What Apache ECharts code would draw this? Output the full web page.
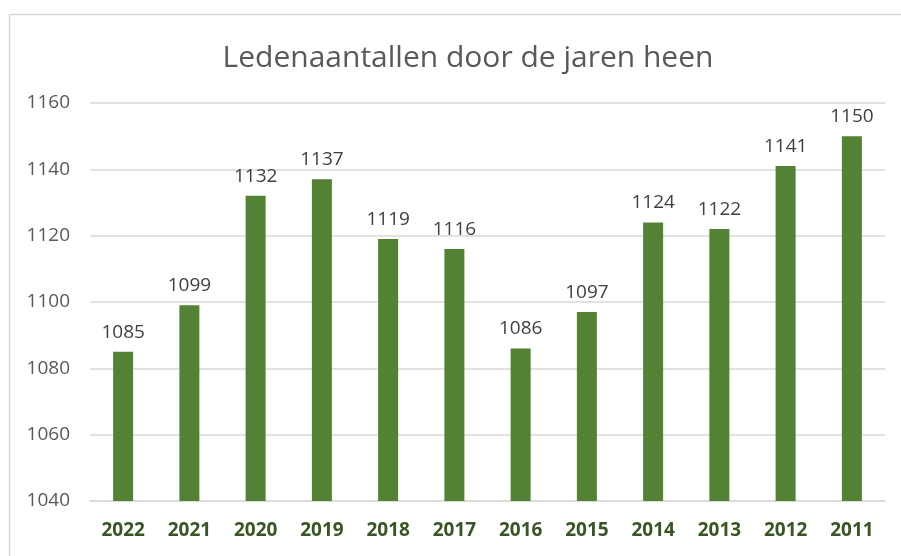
<!DOCTYPE html>
<html><head><meta charset="utf-8">
<script src="https://cdn.jsdelivr.net/npm/echarts@6/dist/echarts.min.js"></script>
<style>html,body{margin:0;padding:0;background:#fff}#c{width:901px;height:556px}</style>
</head><body><div id="c"></div>
<script>
const title = 'Ledenaantallen door de jaren heen';
const years = ['2022','2021','2020','2019','2018','2017','2016','2015','2014','2013','2012','2011'];
const members = [1085,1099,1132,1137,1119,1116,1086,1097,1124,1122,1141,1150];
const yTicks = [1040,1060,1080,1100,1120,1140,1160];

const chart = echarts.init(document.getElementById('c'), null, {renderer:'canvas'});
chart.setOption({
  animation:false,
  backgroundColor:'#fff',
  title:{text:title,left:463,textAlign:'center',top:38,
    textStyle:{fontFamily:'Open Sans',fontSize:30,fontWeight:'normal',color:'#595959'}},
  graphic:[{type:'rect',shape:{x:9.5,y:14.5,width:900,height:560},
    style:{fill:'none',stroke:'#d9d9d9',lineWidth:1.5},silent:true}],
  grid:{left:90,right:16,top:103,bottom:55,containLabel:false},
  xAxis:{type:'category',data:years,
    axisLine:{lineStyle:{color:'#d9d9d9',width:1.5}},axisTick:{show:false},
    axisLabel:{color:'#375623',fontWeight:'bold',fontSize:19,fontFamily:'Open Sans',margin:20}},
  yAxis:{type:'value',min:yTicks[0],max:yTicks[yTicks.length-1],interval:20,
    axisLine:{show:false},axisTick:{show:false},
    splitLine:{lineStyle:{color:'#d9d9d9',width:1.5}},
    axisLabel:{color:'#595959',fontSize:19,fontFamily:'Open Sans',margin:20,formatter:v=>String(v)}},
  series:[{type:'bar',data:members,barWidth:20,
    itemStyle:{color:'#548235'},
    label:{show:true,position:'top',distance:10,color:'#404040',fontSize:19,fontFamily:'Open Sans'}}]
});
</script></body></html>
